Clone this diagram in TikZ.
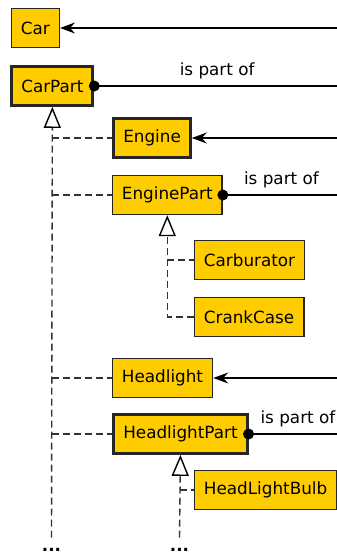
\documentclass[tikz,border=0pt]{standalone}
\usepackage{fontspec}
\setmainfont{DejaVu Sans}
\usetikzlibrary{arrows.meta}
\definecolor{classfill}{HTML}{FFCC00}
\definecolor{edgegray}{HTML}{333333}

\begin{document}
\begin{tikzpicture}[x=1pt,y=-1pt,
	font=\fontsize{16.8}{20}\selectfont,
	cls/.style={draw=black!85, fill=classfill, line width=1.4pt, minimum height=39pt, inner xsep=9.5pt, anchor=west},
	abstr/.style={cls, line width=2.8pt},
	assoc/.style={line width=1.4pt, -{Stealth[length=15pt,width=11pt,inset=5pt]}},
	partof/.style={line width=1.4pt},
	isa/.style={draw=edgegray, line width=1.4pt, dash pattern=on 7pt off 4pt},
	inherit/.style={isa, -{Triangle[fill=white,color=black,length=21pt,width=17pt]}},
	dots/.style={font=\fontsize{16.8}{20}\selectfont\bfseries, inner xsep=0pt, inner ysep=10pt}]
	\useasboundingbox (0,0) rectangle (337,554);
	\clip (0,0) rectangle (337,554);
	% classes
	\node[cls] (car) at (10.7,28) {Car};
	\node[abstr] (carpart) at (10.4,86) {CarPart};
	\node[abstr] (engine) at (112.4,138) {Engine};
	\node[cls] (enginepart) at (111.7,195) {EnginePart};
	\node[cls] (carburator) at (193.7,260) {Carburator};
	\node[cls] (crankcase) at (193.7,317) {CrankCase};
	\node[cls] (headlight) at (111.7,378) {Headlight};
	\node[abstr] (headlightpart) at (112.4,434) {HeadlightPart};
	\node[cls] (bulb) at (193.7,490) {HeadLightBulb};
	\node[dots] (dotsA) at (51.5,549.5) {...};
	\node[dots] (dotsB) at (179.5,549.5) {...};
	% free ends on the right
	\coordinate (carEnd) at (340,28);
	\coordinate (carpartEnd) at (340,86);
	\coordinate (engineEnd) at (340,138);
	\coordinate (enginepartEnd) at (340,195);
	\coordinate (headlightEnd) at (340,378);
	\coordinate (headlightpartEnd) at (340,434);
	% associations
	\draw[assoc] (carEnd) -- (car);
	\draw[assoc] (engineEnd) -- (engine);
	\draw[assoc] (headlightEnd) -- (headlight);
	\draw[partof] (carpart.east) -- node[above=3pt] {is part of} (carpartEnd);
	\draw[partof] (enginepart.east) -- node[above=3pt] {is part of} (enginepartEnd);
	\draw[partof] (headlightpart.east) -- node[above=3pt,pos=0.54] {is part of} (headlightpartEnd);
	\fill (carpart.east) circle (5.5pt);
	\fill (enginepart.east) circle (5.5pt);
	\fill (headlightpart.east) circle (5.5pt);
	% inheritance
	\draw[inherit] (dotsA.north) -- (carpart.south);
	\draw[isa] (carpart.south |- engine.west) -- (engine.west);
	\draw[isa] (carpart.south |- enginepart.west) -- (enginepart.west);
	\draw[isa] (carpart.south |- headlight.west) -- (headlight.west);
	\draw[isa] (carpart.south |- headlightpart.west) -- (headlightpart.west);
	\draw[isa] (enginepart.south |- carburator.west) -- (carburator.west);
	\draw[inherit] (crankcase.west) -- (enginepart.south |- crankcase.west) -- (enginepart.south);
	\draw[inherit] (dotsB.north) -- (headlightpart.south);
	\draw[isa] (headlightpart.south |- bulb.west) -- (bulb.west);
\end{tikzpicture}
\end{document}
